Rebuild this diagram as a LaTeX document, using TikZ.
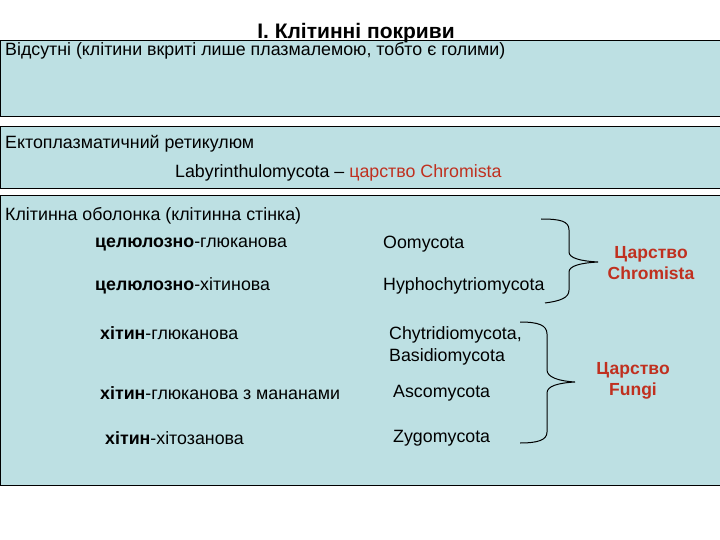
\documentclass[tikz,border=0pt]{standalone}
\usepackage{fontspec}
\setmainfont{Liberation Sans}
\definecolor{bg}{HTML}{BDE0E3}
\definecolor{rd}{HTML}{C0301F}
\begin{document}
\begin{tikzpicture}[x=1pt,y=-1pt,
  box/.style={draw=black,line width=1pt,fill=bg},
  txt/.style={anchor=west,inner sep=0pt,font=\fontsize{17.8}{22}\selectfont},
  red/.style={align=center,inner sep=0pt,text=rd,font=\fontsize{17.5}{21}\selectfont\bfseries},
  brc/.style={line width=1pt}]
\useasboundingbox (0,0) rectangle (720,540);
\fill[white] (0,0) rectangle (720,540);
\draw[box] (0,41) rectangle (720,117);
\draw[box] (0,127) rectangle (720,189);
\draw[box] (0,196) rectangle (720,485);
\node[inner sep=0pt,font=\fontsize{21}{25}\selectfont\bfseries] (title) at (356,33) {I. Клітинні покриви};
\node[txt] (a) at (5,51) {Відсутні (клітини вкриті лише плазмалемою, тобто є голими)};
\node[txt] (b) at (5,144) {Ектоплазматичний ретикулюм};
\node[txt] (c) at (175,173) {Labyrinthulomycota – \textcolor{rd}{царство Chromista}};
\node[txt] (d) at (5,216) {Клітинна оболонка (клітинна стінка)};
\node[txt] (e1) at (95,244) {\textbf{целюлозно}-глюканова};
\node[txt] (f1) at (383,244) {Oomycota};
\node[txt] (e2) at (95,286) {\textbf{целюлозно}-хітинова};
\node[txt] (f2) at (383,286) {Hyphochytriomycota};
\node[txt] (e3) at (100,333) {\textbf{хітин}-глюканова};
\node[txt,align=left] (f3) at (389,346) {Chytridiomycota,\\Basidiomycota};
\node[txt] (e4) at (100,393) {\textbf{хітин}-глюканова з мананами};
\node[txt] (f4) at (393,393) {Ascomycota};
\node[txt] (e5) at (105,438) {\textbf{хітин}-хітозанова};
\node[txt] (f5) at (393,438) {Zygomycota};
\node[red] (k1) at (651,263) {Царство\\Chromista};
\node[red] (k2) at (633,381) {Царство\\Fungi};
\draw[brc] (541,219) .. controls (560,219) and (569,221) .. (569,230) -- (569,252)
  .. controls (569,258) and (580,261) .. (598,262)
  .. controls (580,263) and (569,266) .. (569,272) -- (569,290)
  .. controls (569,298) and (560,301) .. (545,303);
\draw[brc] (520,322) .. controls (538,322) and (547,325) .. (547,334) -- (547,370)
  .. controls (547,377) and (558,381) .. (575,382)
  .. controls (558,383) and (547,386) .. (547,393) -- (547,432)
  .. controls (547,440) and (538,443) .. (520,443);
\end{tikzpicture}
\end{document}
